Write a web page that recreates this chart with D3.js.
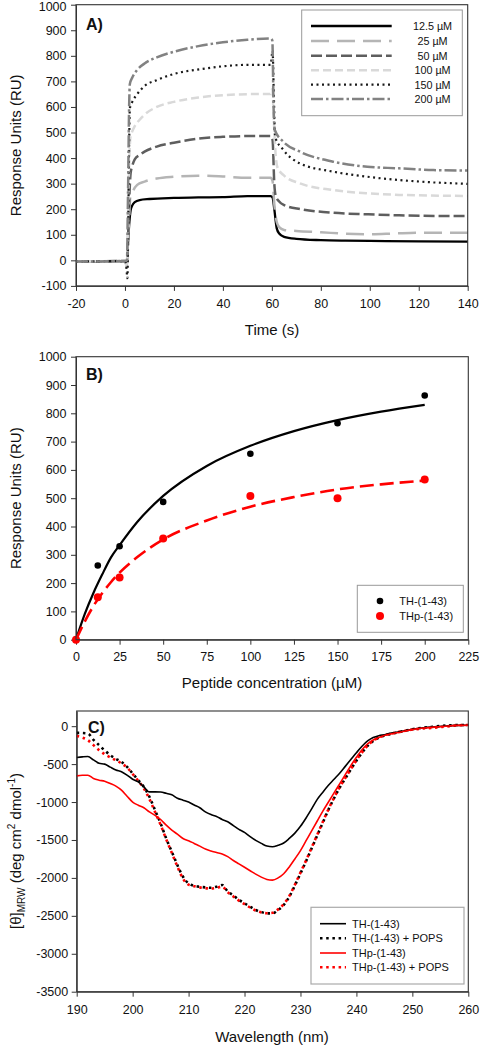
<!DOCTYPE html>
<html><head><meta charset="utf-8">
<script src="https://cdn.jsdelivr.net/npm/d3@7"></script>
<style>body{margin:0;background:#fff}svg{display:block}text{font-family:"Liberation Sans",Arial,sans-serif;fill:#111}</style>
</head><body>
<script>
// ---------- Panel A data (sensorgrams) ----------
const concLabels = ["12.5 µM","25 µM","50 µM","100 µM","150 µM","200 µM"];
const t125 = [-20,0,0.8,1.2,1.8,2.3,3,4,6,10,20,30,40,50,59.5,60.3,61,62,63,65,70,80,90,100,120,140];
const v125 = [-5,-3,-5,60,150,195,215,228,236,240,244,246,247,251,251,245,200,125,105,92,84,79,77,76,74,73];
const t25 = [-20,0,0.8,1.2,1.8,2.2,2.8,3.5,5,8,13,20,30,40,50,59.5,60.3,61,62,63,65,70,80,90,100,110,120,140];
const v25 = [-5,-3,-20,50,180,250,255,275,295,308,320,327,331,328,323,323,310,220,150,130,119,115,110,104,102,105,108,108];
const t50 = [-20,0,0.8,1.3,1.8,2.3,3,4,6,8,13,20,30,40,50,59.5,60.3,61,61.5,63,65,72,85,99,112,140];
const v50 = [-5,-3,-10,100,250,340,370,395,412,425,445,460,476,483,486,486,470,300,255,230,216,200,186,180,176,173];
const t100 = [-20,0,0.8,1.3,1.8,2.2,2.8,4,6,8,13,20,30,40,50,59.5,60.2,60.8,61.5,62.2,64.7,71.5,85,99,112,140];
const v100 = [-5,-3,-30,200,400,480,500,525,550,570,600,620,637,646,650,651,670,550,420,366,334,301,275,262,256,252];
const t150 = [-20,0,0.5,1,1.3,1.7,2,3,5,8,13,20,31,40,51,59.5,60.3,60.8,61.3,64.7,71.5,85,99,112,126,140];
const v150 = [-5,-3,-20,-70,100,450,595,620,650,682,705,729,748,759,765,765,820,650,484,432,379,347,327,314,305,299];
const t200 = [-20,0,0.8,1.3,1.7,2,3,5,8,13,20,30,40,50,59.5,60.2,60.7,61.2,64.7,71.5,85,99,112,126,140];
const v200 = [-5,-3,0,300,600,690,715,745,770,794,816,838,853,863,868,860,600,510,464,425,386,366,360,353,351];

// ---------- Panel B data (binding) ----------
const concB = [0,12.5,25,50,100,150,200];
const thPts = [0,262,330,487,657,765,863];
const thpPts = [0,150,220,358,508,500,566];
const fitX = [0,5,10,15,20,25,35,50,75,100,125,150,175,200];
const thFit = [0,90,165,230,290,334,415,508,614,685,737,776,806,830];
const thpFit = [0,64,119,164,203,237,291,354,421,470,504,531,549,562];

// ---------- Panel C data (CD spectra) ----------
const wl = [190,191,192,193,194,195,196,197,198,199,200,201,202,203,204,205,206,207,208,209,210,211,212,213,214,215,216,217,218,219,220,221,222,223,224,225,226,227,228,229,230,231,232,233,234,235,236,237,238,239,240,241,242,243,244,245,246,248,250,252,254,256,258,260];
const cdTH = [-413,-405,-400,-445,-490,-500,-540,-578,-600,-645,-700,-735,-800,-866,-866,-868,-885,-905,-950,-975,-1000,-1040,-1075,-1130,-1165,-1190,-1230,-1260,-1310,-1360,-1400,-1455,-1505,-1545,-1580,-1590,-1570,-1540,-1480,-1410,-1320,-1210,-1090,-965,-870,-780,-700,-620,-530,-440,-350,-265,-195,-150,-125,-112,-95,-70,-40,-20,-8,3,10,13];
const cdTHpops = [-88,-90,-97,-180,-250,-320,-382,-430,-470,-536,-624,-712,-800,-931,-1107,-1282,-1480,-1656,-1831,-1985,-2073,-2104,-2117,-2125,-2130,-2116,-2094,-2180,-2230,-2290,-2335,-2380,-2423,-2450,-2467,-2467,-2423,-2357,-2248,-2100,-1940,-1780,-1610,-1440,-1270,-1100,-950,-810,-690,-570,-455,-350,-260,-195,-152,-122,-105,-72,-40,-20,-5,8,15,15];
const cdTHp = [-655,-646,-646,-690,-712,-725,-756,-791,-844,-923,-1000,-1042,-1075,-1130,-1175,-1230,-1305,-1370,-1423,-1480,-1510,-1546,-1581,-1620,-1645,-1665,-1685,-1720,-1770,-1815,-1860,-1905,-1950,-1990,-2020,-2029,-2000,-1945,-1855,-1750,-1640,-1510,-1380,-1250,-1120,-1000,-880,-760,-640,-520,-410,-310,-232,-182,-148,-122,-105,-76,-45,-25,-12,0,10,13];
const cdTHpPops = [-130,-150,-184,-250,-316,-370,-410,-450,-490,-545,-630,-720,-820,-960,-1130,-1300,-1490,-1670,-1850,-2010,-2090,-2110,-2125,-2135,-2140,-2130,-2115,-2190,-2245,-2300,-2345,-2390,-2430,-2455,-2465,-2460,-2415,-2345,-2240,-2090,-1930,-1770,-1600,-1430,-1260,-1095,-945,-805,-685,-565,-450,-345,-258,-192,-150,-120,-102,-70,-45,-30,-20,-5,10,15];
const cdLabels = ["TH-(1-43)","TH-(1-43) + POPS","THp-(1-43)","THp-(1-43) + POPS"];

const ticksA_x = [-20,0,20,40,60,80,100,120,140];
const ticksA_y = [-100,0,100,200,300,400,500,600,700,800,900,1000];
const ticksB_x = [0,25,50,75,100,125,150,175,200,225];
const ticksB_y = [0,100,200,300,400,500,600,700,800,900,1000];
const ticksC_x = [190,200,210,220,230,240,250,260];
const ticksC_y = [0,-500,-1000,-1500,-2000,-2500,-3000,-3500];

const svg = d3.select("body").append("svg").attr("width",491).attr("height",1050);
const fmt = d => String(d);

function frame(x, y){
  const [x0,x1] = x.range(), [y0,y1] = y.range();
  svg.append("rect").attr("x",x0).attr("y",y1).attr("width",x1-x0).attr("height",y0-y1)
    .attr("fill","none").attr("stroke","#333").attr("stroke-width",1.1);
}
function axes(x, y, xt, yt, xpad, ypad){
  const gx = svg.append("g").attr("transform",`translate(0,${y.range()[0]})`)
    .call(d3.axisBottom(x).tickValues(xt).tickSize(5).tickPadding(xpad).tickSizeOuter(0).tickFormat(fmt));
  const gy = svg.append("g").attr("transform",`translate(${x.range()[0]},0)`)
    .call(d3.axisLeft(y).tickValues(yt).tickSize(5).tickPadding(ypad).tickSizeOuter(0).tickFormat(fmt));
  [gx,gy].forEach(g=>{
    g.select(".domain").attr("stroke","#333");
    g.selectAll(".tick line").attr("stroke","#333");
    g.selectAll("text").attr("font-size",12.5).attr("font-family",'"Liberation Sans",Arial,sans-serif').attr("fill","#111");
  });
  return gy;
}
function ytitle(x, cy, txt){
  svg.append("text").attr("transform",`translate(${x},${cy}) rotate(-90)`).attr("text-anchor","middle")
    .attr("font-size",15).text(txt);
}

// ================= Panel A =================
const xA = d3.scaleLinear([-20,140],[76,467.7]);
const yA = d3.scaleLinear([-100,1000],[285.9,4.7]);
const gyA = axes(xA,yA,ticksA_x,ticksA_y,8,4.5);
gyA.selectAll(".tick text").filter(d=>d===1000).attr("dy","0.45em");
const stylesA = [
  {c:"#000000", w:2.3, d:null},
  {c:"#b5b5b5", w:2.5, d:"18,8"},
  {c:"#5e5e5e", w:2.5, d:"11,4"},
  {c:"#d9d9d9", w:2.5, d:"8,4"},
  {c:"#1a1a1a", w:2.2, d:"2,3.5"},
  {c:"#828282", w:2.5, d:"12,3,2.5,3"}
];
const seriesA = [[t125,v125],[t25,v25],[t50,v50],[t100,v100],[t150,v150],[t200,v200]];
const lineA = d3.line().x(d=>xA(d[0])).y(d=>yA(d[1])).curve(d3.curveMonotoneX);
seriesA.forEach((s,i)=>{
  const pts = s[0].map((t,j)=>[t,s[1][j]]);
  svg.append("path").datum(pts).attr("d",lineA).attr("fill","none")
    .attr("stroke",stylesA[i].c).attr("stroke-width",stylesA[i].w)
    .attr("stroke-dasharray",stylesA[i].d);
});
frame(xA,yA);
svg.append("text").attr("x",86).attr("y",29.5).attr("font-size",16).attr("font-weight","bold").text("A)");
// legend A
svg.append("rect").attr("x",301.7).attr("y",10).attr("width",160.6).attr("height",105.7)
  .attr("fill","#fff").attr("stroke","#999").attr("stroke-width",1);
const rowsA = [26,41,55.7,70.3,84.7,99];
concLabels.forEach((lab,i)=>{
  svg.append("line").attr("x1",311).attr("x2",391.7).attr("y1",rowsA[i]).attr("y2",rowsA[i])
    .attr("stroke",stylesA[i].c).attr("stroke-width",stylesA[i].w).attr("stroke-dasharray",stylesA[i].d);
  svg.append("text").attr("x",432.5).attr("y",rowsA[i]+4).attr("text-anchor","middle").attr("font-size",10.8).text(lab);
});
svg.append("text").attr("x",272).attr("y",335).attr("text-anchor","middle").attr("font-size",15).text("Time (s)");
ytitle(20.7,145.3,"Response Units (RU)");

// ================= Panel B =================
const xB = d3.scaleLinear([0,225],[76,468.3]);
const yB = d3.scaleLinear([0,1000],[639.7,356.7]);
axes(xB,yB,ticksB_x,ticksB_y,7.5,4.5);
const lineB = d3.line().x(d=>xB(d[0])).y(d=>yB(d[1])).curve(d3.curveMonotoneX);
svg.append("path").datum(fitX.map((x,i)=>[x,thFit[i]])).attr("d",lineB).attr("fill","none")
  .attr("stroke","#000").attr("stroke-width",2.2);
svg.append("path").datum(fitX.map((x,i)=>[x,thpFit[i]])).attr("d",lineB).attr("fill","none")
  .attr("stroke","#ff0000").attr("stroke-width",2.6).attr("stroke-dasharray","14,6");
svg.append("g").selectAll("circle").data(concB.map((x,i)=>[x,thPts[i]])).join("circle")
  .attr("cx",d=>xB(d[0])).attr("cy",d=>yB(d[1])).attr("r",3.3).attr("fill","#000");
svg.append("g").selectAll("circle").data(concB.map((x,i)=>[x,thpPts[i]])).join("circle")
  .attr("cx",d=>xB(d[0])).attr("cy",d=>yB(d[1])).attr("r",4).attr("fill","#ff0000");
frame(xB,yB);
svg.append("text").attr("x",86).attr("y",380).attr("font-size",16).attr("font-weight","bold").text("B)");
svg.append("rect").attr("x",357.3).attr("y",585.3).attr("width",106).attr("height",47)
  .attr("fill","#fff").attr("stroke","#999").attr("stroke-width",1);
[["TH-(1-43)","#000",3.3,601],["THp-(1-43)","#ff0000",4,616]].forEach(r=>{
  svg.append("circle").attr("cx",380).attr("cy",r[3]).attr("r",r[2]).attr("fill",r[1]);
  svg.append("text").attr("x",399.3).attr("y",r[3]+4).attr("font-size",11).text(r[0]);
});
svg.append("text").attr("x",272).attr("y",688.3).attr("text-anchor","middle").attr("font-size",15).text("Peptide concentration (µM)");
ytitle(20.5,498.2,"Response Units (RU)");

// ================= Panel C =================
const xC = d3.scaleLinear([190,260],[76.7,468.3]);
const yC = d3.scaleLinear([-3500,200],[991.7,711]);
axes(xC,yC,ticksC_x,ticksC_y,8,3.5);
const lineC = d3.line().x(d=>xC(d[0])).y(d=>yC(d[1])).curve(d3.curveMonotoneX);
const stylesC = [
  {c:"#000", w:1.6, d:null},
  {c:"#000", w:2.6, d:"2.5,3.7"},
  {c:"#ff0000", w:1.6, d:null},
  {c:"#ff0000", w:2.6, d:"2.5,3.7"}
];
const seriesC = [cdTH,cdTHpops,cdTHp,cdTHpPops];
[1,3,0,2].forEach(i=>{
  svg.append("path").datum(wl.map((w,j)=>[w,seriesC[i][j]])).attr("d",lineC).attr("fill","none")
    .attr("stroke",stylesC[i].c).attr("stroke-width",stylesC[i].w).attr("stroke-dasharray",stylesC[i].d);
});
frame(xC,yC);
svg.append("text").attr("x",88).attr("y",733).attr("font-size",16).attr("font-weight","bold").text("C)");
svg.append("rect").attr("x",311).attr("y",907.3).attr("width",153).attr("height",76.7)
  .attr("fill","#fff").attr("stroke","#aaa").attr("stroke-width",1.2);
const rowsC = [923.7,938.3,953,967.3];
cdLabels.forEach((lab,i)=>{
  svg.append("line").attr("x1",320).attr("x2",346).attr("y1",rowsC[i]).attr("y2",rowsC[i])
    .attr("stroke",stylesC[i].c).attr("stroke-width",stylesC[i].w).attr("stroke-dasharray",stylesC[i].d);
  svg.append("text").attr("x",352).attr("y",rowsC[i]+4).attr("font-size",11).text(lab);
});
svg.append("text").attr("x",272).attr("y",1042).attr("text-anchor","middle").attr("font-size",15).text("Wavelength (nm)");
const yt = svg.append("text").attr("transform","translate(20.7,851) rotate(-90)").attr("text-anchor","middle").attr("font-size",15);
yt.append("tspan").text("[θ]");
yt.append("tspan").attr("font-size",10).attr("dy",4).text("MRW");
yt.append("tspan").attr("dy",-4).text(" (deg cm");
yt.append("tspan").attr("font-size",10).attr("dy",-6).text("2");
yt.append("tspan").attr("dy",6).text(" dmol");
yt.append("tspan").attr("font-size",10).attr("dy",-6).text("-1");
yt.append("tspan").attr("dy",6).text(")");
</script>
</body></html>
